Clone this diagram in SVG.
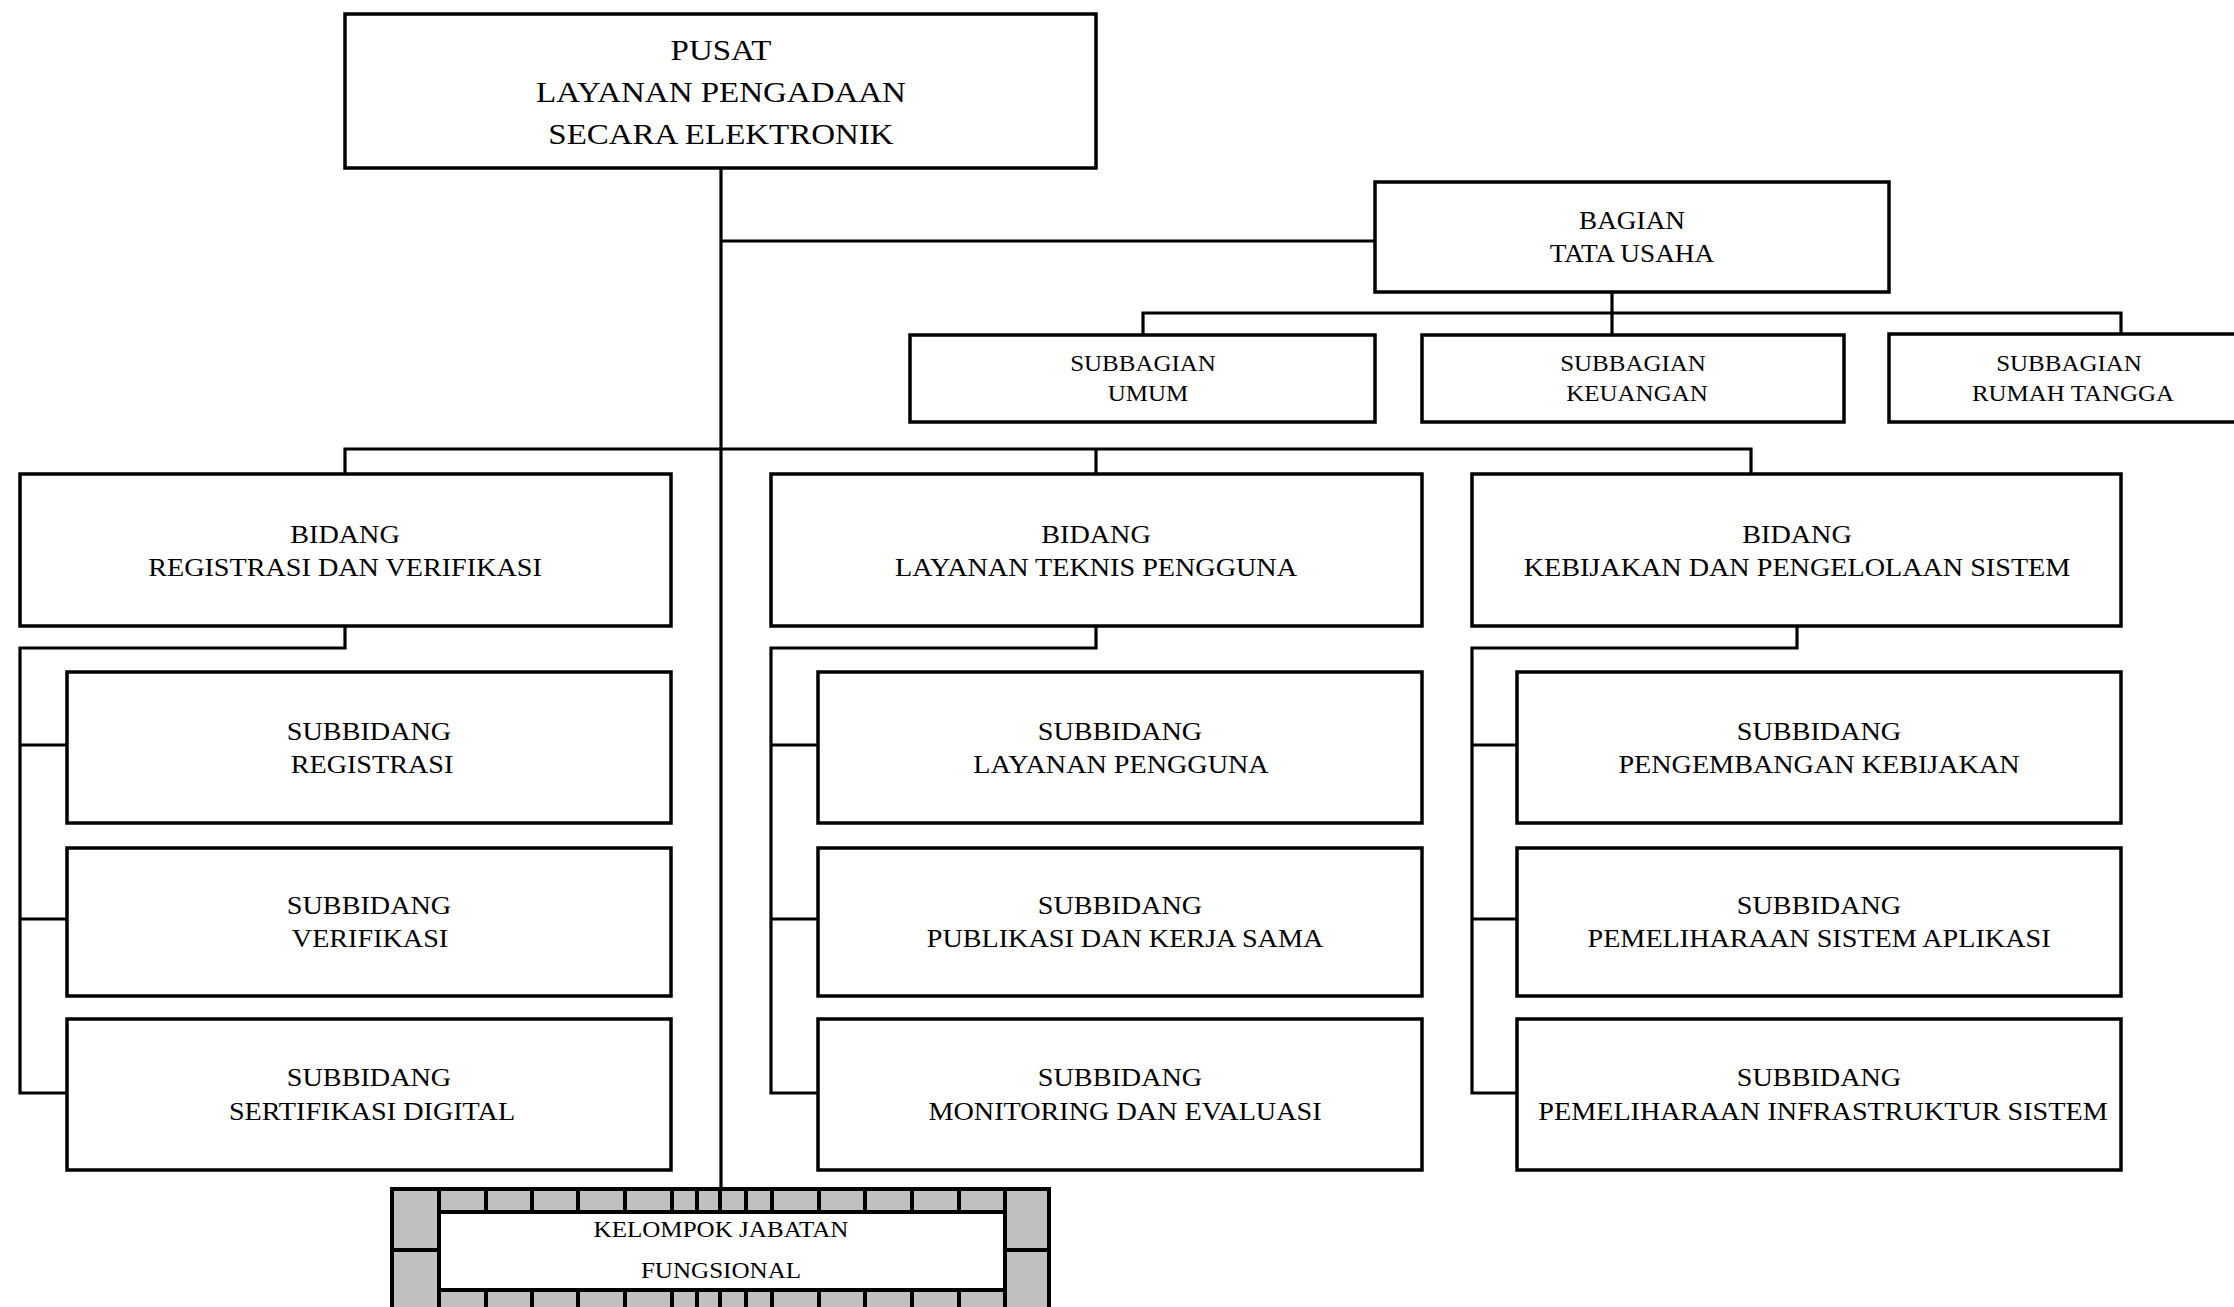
<svg xmlns="http://www.w3.org/2000/svg" width="2234" height="1307" viewBox="0 0 2234 1307">
<style>
.box{fill:#fff;stroke:#000;stroke-width:3.5}
.ln{fill:none;stroke:#000;stroke-width:3.2}
text{font-family:"Liberation Serif","Times New Roman",serif;fill:#000;text-anchor:middle}
.t1{font-size:30px}
.t2{font-size:24.8px}
.t3{font-size:22.7px}
.t4{font-size:25.6px}
.t5{font-size:22.8px}
.cell{fill:#c0c0c0;stroke:#000;stroke-width:4}
</style>
<rect width="2234" height="1307" fill="#fff"/>
<g id="connectors">
<path class="ln" d="M721,168 V1189"/>
<path class="ln" d="M721,241 H1375"/>
<path class="ln" d="M1612,292 V335"/>
<path class="ln" d="M1143,335 V313 H2121 V333"/>
<path class="ln" d="M345,474 V449 H1751 V474"/>
<path class="ln" d="M1096,449 V474"/>
<path class="ln" d="M345,626 V648 H20 V1093 H67 M20,745 H67 M20,919 H67"/>
<path class="ln" d="M1096,626 V648 H771 V1093 H818 M771,745 H818 M771,919 H818"/>
<path class="ln" d="M1797,626 V648 H1472 V1093 H1517 M1472,745 H1517 M1472,919 H1517"/>
</g>
<g id="pusat">
<rect class="box" x="345" y="14" width="751" height="154"/>
<text class="t1" transform="translate(721,60) scale(1.1,1)">PUSAT</text>
<text class="t1" transform="translate(721,102) scale(1.1,1)">LAYANAN PENGADAAN</text>
<text class="t1" transform="translate(721,144) scale(1.1,1)">SECARA ELEKTRONIK</text>
</g>
<g id="bagian-tu">
<rect class="box" x="1375" y="182" width="514" height="110"/>
<text class="t2" transform="translate(1632,229) scale(1.1,1)">BAGIAN</text>
<text class="t2" transform="translate(1632,262) scale(1.1,1)">TATA USAHA</text>
</g>
<g id="sub-umum">
<rect class="box" x="910" y="335" width="465" height="87"/>
<text class="t3" transform="translate(1143,371) scale(1.1,1)">SUBBAGIAN</text>
<text class="t3" transform="translate(1148,401) scale(1.1,1)">UMUM</text>
</g>
<g id="sub-keuangan">
<rect class="box" x="1422" y="335" width="422" height="87"/>
<text class="t3" transform="translate(1633,371) scale(1.1,1)">SUBBAGIAN</text>
<text class="t3" transform="translate(1637,401) scale(1.1,1)">KEUANGAN</text>
</g>
<g id="sub-rumah">
<rect class="box" x="1889" y="334" width="380" height="88"/>
<text class="t3" transform="translate(2069,371) scale(1.1,1)">SUBBAGIAN</text>
<text class="t3" transform="translate(2073,401) scale(1.1,1)">RUMAH TANGGA</text>
</g>
<g id="bidang-rv">
<rect class="box" x="20" y="474" width="651" height="152"/>
<text class="t4" transform="translate(345,543) scale(1.1,1)">BIDANG</text>
<text class="t4" transform="translate(345,576) scale(1.1,1)">REGISTRASI DAN VERIFIKASI</text>
</g>
<g id="bidang-ltp">
<rect class="box" x="771" y="474" width="651" height="152"/>
<text class="t4" transform="translate(1096,543) scale(1.1,1)">BIDANG</text>
<text class="t4" transform="translate(1096,576) scale(1.1,1)">LAYANAN TEKNIS PENGGUNA</text>
</g>
<g id="bidang-kps">
<rect class="box" x="1472" y="474" width="649" height="152"/>
<text class="t4" transform="translate(1797,543) scale(1.1,1)">BIDANG</text>
<text class="t4" transform="translate(1797,576) scale(1.1,1)">KEBIJAKAN DAN PENGELOLAAN SISTEM</text>
</g>
<g id="sb-registrasi">
<rect class="box" x="67" y="672" width="604" height="151"/>
<text class="t4" transform="translate(369,740) scale(1.1,1)">SUBBIDANG</text>
<text class="t4" transform="translate(372,773) scale(1.1,1)">REGISTRASI</text>
</g>
<g id="sb-verifikasi">
<rect class="box" x="67" y="848" width="604" height="148"/>
<text class="t4" transform="translate(369,914) scale(1.1,1)">SUBBIDANG</text>
<text class="t4" transform="translate(370,947) scale(1.1,1)">VERIFIKASI</text>
</g>
<g id="sb-sertifikasi">
<rect class="box" x="67" y="1019" width="604" height="151"/>
<text class="t4" transform="translate(369,1086) scale(1.1,1)">SUBBIDANG</text>
<text class="t4" transform="translate(372,1120) scale(1.1,1)">SERTIFIKASI DIGITAL</text>
</g>
<g id="sb-layanan">
<rect class="box" x="818" y="672" width="604" height="151"/>
<text class="t4" transform="translate(1120,740) scale(1.1,1)">SUBBIDANG</text>
<text class="t4" transform="translate(1121,773) scale(1.1,1)">LAYANAN PENGGUNA</text>
</g>
<g id="sb-publikasi">
<rect class="box" x="818" y="848" width="604" height="148"/>
<text class="t4" transform="translate(1120,914) scale(1.1,1)">SUBBIDANG</text>
<text class="t4" transform="translate(1125,947) scale(1.1,1)">PUBLIKASI DAN KERJA SAMA</text>
</g>
<g id="sb-monev">
<rect class="box" x="818" y="1019" width="604" height="151"/>
<text class="t4" transform="translate(1120,1086) scale(1.1,1)">SUBBIDANG</text>
<text class="t4" transform="translate(1125,1120) scale(1.1,1)">MONITORING DAN EVALUASI</text>
</g>
<g id="sb-kebijakan">
<rect class="box" x="1517" y="672" width="604" height="151"/>
<text class="t4" transform="translate(1819,740) scale(1.1,1)">SUBBIDANG</text>
<text class="t4" transform="translate(1819,773) scale(1.1,1)">PENGEMBANGAN KEBIJAKAN</text>
</g>
<g id="sb-aplikasi">
<rect class="box" x="1517" y="848" width="604" height="148"/>
<text class="t4" transform="translate(1819,914) scale(1.1,1)">SUBBIDANG</text>
<text class="t4" transform="translate(1819,947) scale(1.1,1)">PEMELIHARAAN SISTEM APLIKASI</text>
</g>
<g id="sb-infrastruktur">
<rect class="box" x="1517" y="1019" width="604" height="151"/>
<text class="t4" transform="translate(1819,1086) scale(1.1,1)">SUBBIDANG</text>
<text class="t4" transform="translate(1823,1120) scale(1.1,1)">PEMELIHARAAN INFRASTRUKTUR SISTEM</text>
</g>
<g id="kjf">
<rect class="cell" x="392" y="1189" width="657" height="140"/>
<path fill="none" stroke="#000" stroke-width="4" d="M439,1189 V1212 M486,1189 V1212 M532,1189 V1212 M578,1189 V1212 M625,1189 V1212 M672,1189 V1212 M697,1189 V1212 M720,1189 V1212 M746,1189 V1212 M772,1189 V1212 M819,1189 V1212 M865,1189 V1212 M912,1189 V1212 M959,1189 V1212 M1005,1189 V1212 M439,1290 V1329 M486,1290 V1329 M532,1290 V1329 M578,1290 V1329 M625,1290 V1329 M672,1290 V1329 M697,1290 V1329 M720,1290 V1329 M746,1290 V1329 M772,1290 V1329 M819,1290 V1329 M865,1290 V1329 M912,1290 V1329 M959,1290 V1329 M1005,1290 V1329 M392,1250 H439 M1005,1250 H1049"/>
<rect x="439" y="1212" width="566" height="78" fill="#fff" stroke="#000" stroke-width="4"/>
<text class="t5" transform="translate(721,1237) scale(1.1,1)">KELOMPOK JABATAN</text>
<text class="t5" transform="translate(721,1278) scale(1.1,1)">FUNGSIONAL</text>
</g>
</svg>
